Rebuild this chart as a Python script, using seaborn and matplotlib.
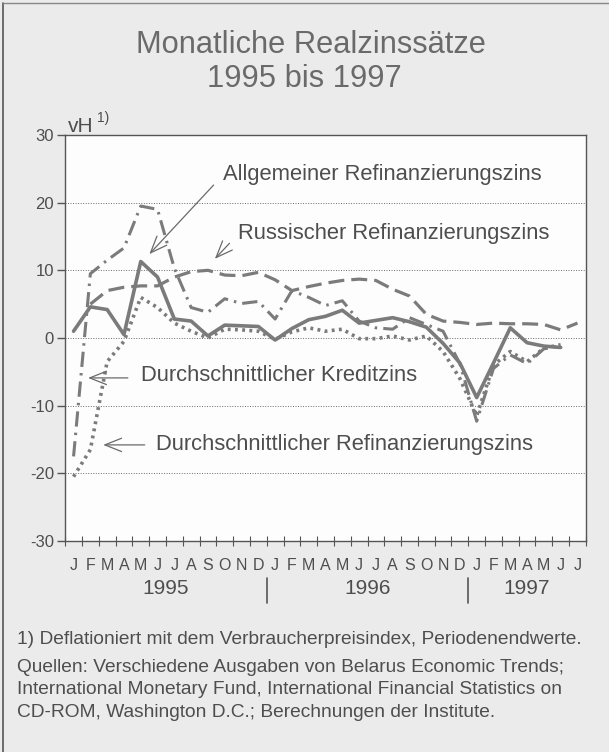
import numpy as np
import pandas as pd
import seaborn as sns
import matplotlib.pyplot as plt
from matplotlib.lines import Line2D

# Monate Januar 1995 bis Juli 1997
month_letters = ["J", "F", "M", "A", "M", "J", "J", "A", "S", "O", "N", "D"] * 2 + \
    ["J", "F", "M", "A", "M", "J", "J"]
years = ["1995", "1996", "1997"]
year_of_month = [0] * 12 + [1] * 12 + [2] * 7

nan = np.nan
# Realzinssätze in vH
allgemein = [1.0, 4.6, 4.2, 0.5, 11.3, 9.0, 2.8, 2.5, 0.3, 1.9, 1.8, 1.7,
             -0.3, 1.4, 2.7, 3.2, 4.1, 2.2, 2.6, 3.0, 2.4, 1.6, -0.8, -3.7,
             -8.8, -3.7, 1.5, -0.7, -1.2, -1.4, nan]
russisch = [nan, 5.0, 7.0, 7.5, 7.7, 7.7, 9.0, 9.8, 10.0, 9.3, 9.2, 9.7,
            8.6, 7.0, 7.6, 8.1, 8.5, 8.7, 8.5, 7.2, 6.2, 3.5, 2.5, 2.3,
            2.0, 2.2, 2.1, 2.1, 2.0, 1.2, 2.2]
kredit = [-17.5, 9.5, 11.5, 13.3, 19.5, 19.0, 10.3, 4.5, 3.8, 5.8, 5.1, 5.4,
          2.8, 7.0, 6.0, 4.8, 5.5, 2.5, 1.5, 1.3, 3.0, 2.0, 1.0, -3.8,
          -12.3, -4.5, -2.5, -3.8, -1.6, -1.2, nan]
refi = [-20.5, -16.5, -3.5, -0.5, 6.0, 4.5, 2.2, 1.0, 0.0, 1.3, 1.2, 1.0,
        -0.2, 0.9, 1.5, 1.0, 1.3, -0.1, -0.1, 0.3, -0.3, 0.3, -2.0, -6.0,
        -11.5, -4.0, -2.0, -3.5, -1.5, -1.0, nan]

footnote = "1) Deflationiert mit dem Verbraucherpreisindex, Periodenendwerte."
sources = ["Quellen: Verschiedene Ausgaben von Belarus Economic Trends;",
           "International Monetary Fund, International Financial Statistics on",
           "CD-ROM, Washington D.C.; Berechnungen der Institute."]

sns.set_theme(style="white")
plt.rcParams["font.family"] = ["Liberation Sans", "DejaVu Sans"]
plt.rcParams["axes.unicode_minus"] = False

line_grey = "#7b7b7b"
text_grey = "#4e4e4e"
frame_grey = "#555555"

fig = plt.figure(figsize=(6.09, 7.52), dpi=100, facecolor="#ebebeb")
ax = fig.add_axes([0.107, 0.2806, 0.855, 0.5399])
ax.set_facecolor("#fdfdfd")

idx = np.arange(len(month_letters))
df = pd.DataFrame({"monat": idx, "allgemein": allgemein, "russisch": russisch,
                   "kredit": kredit, "refi": refi})

styles = [
    ("russisch", (0, (5, 2.2)), 2.3),
    ("kredit", (0, (5, 2, 0.8, 2)), 2.2),
    ("refi", (0, (0.8, 1.2)), 2.6),
    ("allgemein", "-", 2.6),
]
for col, ls, lw in styles:
    sns.lineplot(data=df, x="monat", y=col, ax=ax, color=line_grey,
                 linestyle=ls, lw=lw, errorbar=None)

# Achsen
ax.set_xlim(-0.5, 30.5)
ax.set_ylim(-30, 30)
ax.set_xlabel("")
ax.set_ylabel("")
ax.set_yticks(range(-30, 31, 10))
ax.set_xticks(idx, month_letters)
ax.set_xticks(np.arange(-0.5, 31), minor=True)
ax.tick_params(axis="y", direction="out", length=6, width=1, color=frame_grey,
               labelsize=12, labelcolor=text_grey, pad=2, left=True)
ax.tick_params(axis="x", which="major", length=0, pad=12, labelsize=11.5,
               labelcolor=text_grey)
ax.tick_params(axis="x", which="minor", direction="inout", length=7, width=0.8,
               color=frame_grey, bottom=True)
for s in ax.spines.values():
    s.set_color(frame_grey)
    s.set_linewidth(1.0)
for v in [-20, -10, 0, 10, 20]:
    ax.axhline(v, color="#6a6a6a", lw=0.7, linestyle=(0, (1, 1.6)), zorder=0)

# Jahresbeschriftung
xt = ax.get_xaxis_transform()
for k, y in enumerate(years):
    centre = np.mean([i for i, yy in enumerate(year_of_month) if yy == k])
    ax.text(centre, -0.116, y, transform=xt, ha="center", va="center",
            fontsize=15, color=text_grey)
for b in [11.5, 23.5]:
    ax.plot([b, b], [-0.091, -0.152], transform=xt, color=frame_grey,
            lw=1.2, clip_on=False)

# Beschriftungen mit Pfeilen
notes = [
    ("Allgemeiner Refinanzierungszins", (8.9, 24.1), (8.45, 22.9), (4.4, 12.1)),
    ("Russischer Refinanzierungszins", (9.8, 15.4), (9.4, 14.3), (8.3, 11.4)),
    ("Durchschnittlicher Kreditzins", (4.0, -5.6), (3.4, -5.9), (0.7, -5.9)),
    ("Durchschnittlicher Refinanzierungszins", (4.9, -15.8), (4.4, -15.8), (1.6, -15.8)),
]
for label, tpos, tail, tip in notes:
    ax.text(tpos[0], tpos[1], label, ha="left", va="center", fontsize=15.8,
            color=text_grey)
    ax.annotate("", xy=tip, xytext=tail,
                arrowprops=dict(arrowstyle="->,head_length=1.0,head_width=0.4",
                                color="#6a6a6a", lw=0.9))

# Titel und Einheit
fig.text(0.51, 0.940, "Monatliche Realzinssätze", ha="center", va="center",
         fontsize=22.2, color="#6a6a6a")
fig.text(0.50, 0.895, "1995 bis 1997", ha="center", va="center",
         fontsize=22.2, color="#6a6a6a")
fig.text(0.112, 0.832, "vH", ha="left", va="center", fontsize=15, color=text_grey)
fig.text(0.160, 0.843, "1)", ha="left", va="center", fontsize=10, color=text_grey)

# Fußnoten
fig.text(0.028, 0.149, footnote, ha="left", va="center", fontsize=13.8,
         color=text_grey)
for k, line in enumerate(sources):
    fig.text(0.028, 0.113 - k * 0.0305, line, ha="left", va="center",
             fontsize=13.8, color=text_grey)

# Rahmen links und oben
fig.add_artist(Line2D([0.005, 0.005], [0, 0.996], transform=fig.transFigure,
                      color=frame_grey, lw=1.2))
fig.add_artist(Line2D([0.005, 1.0], [0.996, 0.996], transform=fig.transFigure,
                      color="#888888", lw=1.0))

fig.savefig("out.png", dpi=100, facecolor=fig.get_facecolor())
